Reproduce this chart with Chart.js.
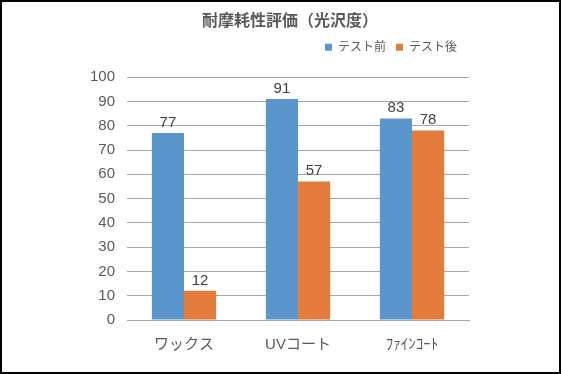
<!DOCTYPE html>
<html>
<head>
<script src="https://cdn.jsdelivr.net/npm/chart.js@4"></script>
<style>
  body { margin: 0; background: #fff; }
  #box { width: 557px; height: 370px; border: 2px solid #000; }
</style>
</head>
<body>
<div id="box"><canvas id="chart" width="557" height="370"></canvas></div>
<script>
const categories = ['ワックス', 'UVコート', 'ﾌｧｲﾝｺｰﾄ'];
const before = [77, 91, 83];
const after = [12, 57, 78];
const seriesNames = ['テスト前', 'テスト後'];

const jpFont = "'Liberation Sans', 'Noto Sans CJK JP', sans-serif";

// value labels above the bars
const valueLabels = {
  id: 'valueLabels',
  afterDatasetsDraw(chart) {
    const ctx = chart.ctx;
    ctx.save();
    ctx.font = "15px " + jpFont;
    ctx.fillStyle = '#404040';
    ctx.textAlign = 'center';
    ctx.textBaseline = 'bottom';
    chart.data.datasets.forEach((ds, i) => {
      chart.getDatasetMeta(i).data.forEach((bar, j) => {
        ctx.fillText(ds.data[j], bar.x, bar.y - 3);
      });
    });
    ctx.restore();
  }
};

// more room under the legend, and nudge title / legend sideways
const tweakLayout = {
  id: 'tweakLayout',
  beforeInit(chart) {
    const fit = chart.legend.fit;
    chart.legend.fit = function () {
      fit.bind(chart.legend)();
      this.height += 14;
    };
  },
  afterLayout(chart) {
    chart.titleBlock.left += 33;
    chart.legend.right = 465;
  }
};

new Chart(document.getElementById('chart'), {
  type: 'bar',
  data: {
    labels: categories,
    datasets: [
      { label: seriesNames[0], data: before, backgroundColor: '#5A96CB' },
      { label: seriesNames[1], data: after, backgroundColor: '#E37B3B' }
    ]
  },
  options: {
    responsive: false,
    animation: false,
    layout: { padding: { left: 76, right: 90, top: 8, bottom: 10 } },
    datasets: { bar: { categoryPercentage: 0.564, barPercentage: 1 } },
    plugins: {
      title: {
        display: true,
        text: '耐摩耗性評価（光沢度）',
        color: '#595959',
        font: { family: jpFont, size: 16, weight: 'bold' },
        padding: { top: 2, bottom: 0 }
      },
      legend: {
        position: 'top',
        align: 'end',
        labels: {
          boxWidth: 7,
          boxHeight: 7,
          color: '#595959',
          font: { family: jpFont, size: 12 },
          padding: 10
        }
      },
      tooltip: { enabled: false }
    },
    scales: {
      x: {
        grid: { display: false },
        border: { color: '#A6A6A6' },
        ticks: { color: '#595959', font: { family: jpFont, size: 15 }, padding: 8 }
      },
      y: {
        min: 0,
        max: 100,
        ticks: { stepSize: 10, color: '#595959', font: { family: jpFont, size: 15 }, padding: 12 },
        grid: { color: '#A6A6A6', drawTicks: false },
        border: { display: false }
      }
    }
  },
  plugins: [valueLabels, tweakLayout]
});
</script>
</body>
</html>
